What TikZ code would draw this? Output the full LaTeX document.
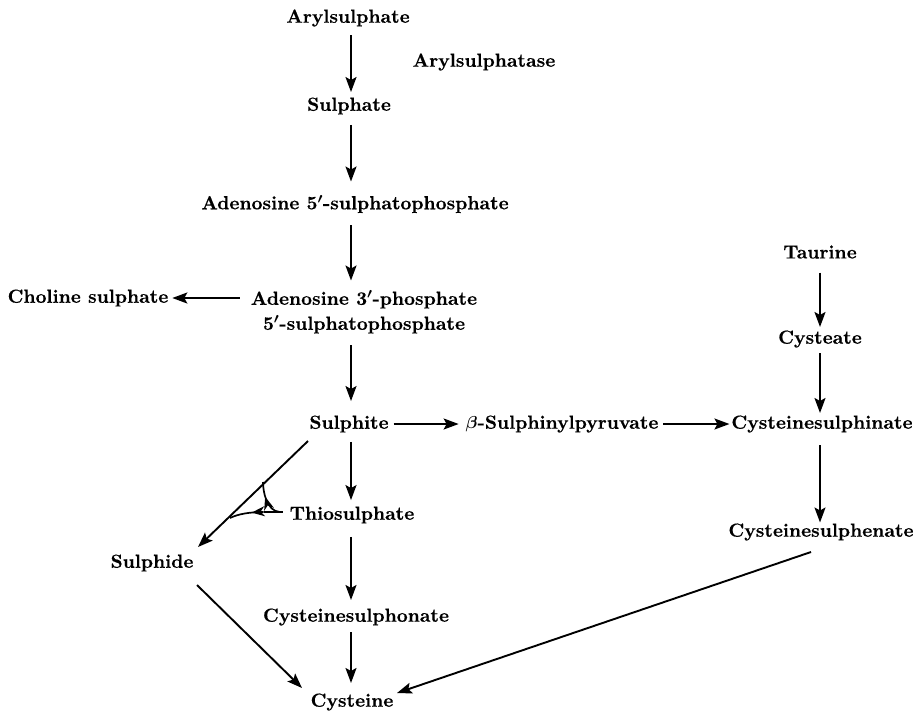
\documentclass[tikz,border=0pt]{standalone}
\usepackage{fontspec}
\newfontfamily\heavy{lmroman10-bold.otf}[FakeBold=0.4]
\usetikzlibrary{arrows.meta,decorations.markings}
\begin{document}
\begin{tikzpicture}[x=1pt,y=-1pt,
  lbl/.style={font=\fontsize{19}{25}\selectfont\heavy\boldmath, inner sep=0pt, outer sep=0pt},
  arr/.style={line width=1.9pt, -{Stealth[length=15pt,width=11pt,inset=3pt]}},
  ln/.style={line width=1.7pt},
  midarr/.style={line width=1.7pt, decoration={markings, mark=at position #1 with {\arrow{Stealth[length=13pt,width=10pt,inset=4pt]}}}, postaction={decorate}}
]
\useasboundingbox (0,0) rectangle (915,713);
\coordinate (mx) at (351,0);
\coordinate (rx) at (820,0);

\node[lbl] (aryl) at (348,18) {Arylsulphate};
\node[lbl] (enz) at (484,62) {Arylsulphatase};
\node[lbl] (sulphate) at (349,106) {Sulphate};
\node[lbl] (aps) at (355,204) {Adenosine 5$'$-sulphatophosphate};
\node[lbl, align=center] (paps) at (364,312) {Adenosine 3$'$-phosphate\\5$'$-sulphatophosphate};
\node[lbl] (choline) at (88,298) {Choline sulphate};
\node[lbl] (sulphite) at (349,424) {Sulphite};
\node[lbl] (pyr) at (562,424) {$\beta$-Sulphinylpyruvate};
\node[lbl] (cysin) at (822,424) {Cysteinesulphinate};
\node[lbl] (taurine) at (820,252) {Taurine};
\node[lbl] (cysteate) at (820,339) {Cysteate};
\node[lbl] (cysen) at (821,532) {Cysteinesulphenate};
\node[lbl] (thio) at (352,515) {Thiosulphate};
\node[lbl] (cyson) at (356,617) {Cysteinesulphonate};
\node[lbl] (cysteine) at (352,702) {Cysteine};
\node[lbl] (sulphide) at (152,563) {Sulphide};

% main vertical chain
\draw[arr, shorten <=8.5pt, shorten >=5.5pt] (aryl.south -| mx) -- (sulphate.north -| mx);
\draw[arr, shorten <=10.5pt, shorten >=13.5pt] (sulphate.south -| mx) -- (aps.north -| mx);
\draw[arr, shorten <=12.5pt, shorten >=10pt] (aps.south -| mx) -- (paps.north -| mx);
\draw[arr, shorten <=12pt, shorten >=14.5pt] (paps.south -| mx) -- (sulphite.north -| mx);
\draw[arr, shorten <=9.5pt, shorten >=6.5pt] (sulphite.south -| mx) -- (thio.north -| mx);
\draw[arr, shorten <=13.5pt, shorten >=8.5pt] (thio.south -| mx) -- (cyson.north -| mx);
\draw[arr, shorten <=6.5pt, shorten >=10.5pt] (cyson.south -| mx) -- (cysteine.north -| mx);

% choline
\draw[arr, shorten <=11pt, shorten >=4pt] (paps.west |- choline.east) -- (choline.east);

% horizontal sulphite chain
\draw[arr, shorten <=5pt, shorten >=7pt] (sulphite.east) -- (pyr.west);
\draw[arr, shorten <=5pt, shorten >=2pt] (pyr.east) -- (cysin.west);

% right column
\draw[arr, shorten <=14pt, shorten >=3.5pt] (taurine.south -| rx) -- (cysteate.north -| rx);
\draw[arr, shorten <=5.5pt, shorten >=2.5pt] (cysteate.south -| rx) -- (cysin.north -| rx);
\draw[arr, shorten <=12.5pt, shorten >=1pt] (cysin.south -| rx) -- (cysen.north -| rx);

% to cysteine
\draw[arr] ([shift={(-10,20)}]cysen.center) -- ([shift={(45,-9)}]cysteine.center);
\draw[arr] ([shift={(45,22)}]sulphide.center) -- ([shift={(-50,-14)}]cysteine.center);

% sulphite to sulphide
\draw[arr] ([shift={(-41,17)}]sulphite.center) -- ([shift={(46,-16)}]sulphide.center);

% thiosulphate fork
\coordinate (t0) at ([shift={(-7,-3)}]thio.west);
\coordinate (tf) at ([shift={(-10,-3)}]thio.west);
\coordinate (tl) at ([shift={(-26,-3)}]thio.west);
\coordinate (tu) at (263,482);
\coordinate (tj) at (230,518);
\draw[ln] (t0) -- (tl);
\draw[midarr=0.6] (tf) .. controls ([shift={(-13,-1)}]tf) and ([shift={(0,10)}]tu) .. (tu);
\draw[midarr=0.35] (tl) .. controls ([shift={(-14,0)}]tl) and ([shift={(8,-4)}]tj) .. (tj);
\end{tikzpicture}
\end{document}
